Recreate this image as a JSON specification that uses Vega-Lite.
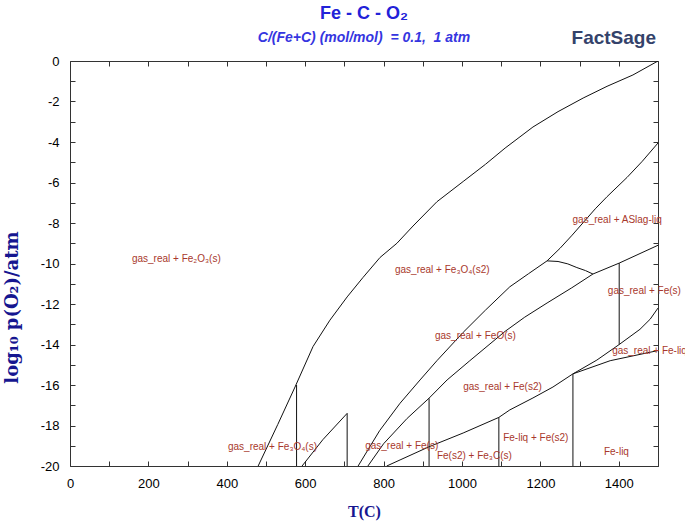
{
  "$schema": "https://vega.github.io/schema/vega-lite/v6.json",
  "width": 588,
  "height": 405,
  "autosize": {"type": "none"},
  "padding": {"left": 70, "top": 61, "right": 27, "bottom": 56},
  "background": "white",
  "config": {
    "view": {"stroke": "#333333", "strokeWidth": 1},
    "font": "Liberation Sans",
    "axis": {"grid": false, "domain": false, "tickColor": "#333333", "tickWidth": 1, "labelFont": "Liberation Sans", "labelFontSize": 13, "labelColor": "#000000", "labelFlush": false, "labelOverlap": false}
  },
  "title": {
    "text": "Fe - C - O₂",
    "subtitle": "C/(Fe+C) (mol/mol) \u00a0= 0.1, \u00a01 atm",
    "anchor": "middle",
    "font": "Liberation Sans",
    "fontSize": 18,
    "fontWeight": "bold",
    "color": "#2222d8",
    "subtitleFont": "Liberation Sans",
    "subtitleFontSize": 14,
    "subtitleFontStyle": "italic",
    "subtitleFontWeight": "bold",
    "subtitleColor": "#3535e0",
    "subtitlePadding": 8,
    "offset": 14,
    "dy": 30
  },
  "datasets": {
    "lines": [
      {"seg": "c1", "i": 1, "T": 480, "v": -20}, {"seg": "c1", "i": 2, "T": 530, "v": -17.95}, {"seg": "c1", "i": 3, "T": 574, "v": -16.1}, {"seg": "c1", "i": 4, "T": 620, "v": -14.1}, {"seg": "c1", "i": 5, "T": 663, "v": -12.8}, {"seg": "c1", "i": 6, "T": 707, "v": -11.65}, {"seg": "c1", "i": 7, "T": 747, "v": -10.7}, {"seg": "c1", "i": 8, "T": 791, "v": -9.7}, {"seg": "c1", "i": 9, "T": 834, "v": -9.0}, {"seg": "c1", "i": 10, "T": 875, "v": -8.15}, {"seg": "c1", "i": 11, "T": 936, "v": -6.95}, {"seg": "c1", "i": 12, "T": 1003, "v": -5.95}, {"seg": "c1", "i": 13, "T": 1060, "v": -5.1}, {"seg": "c1", "i": 14, "T": 1110, "v": -4.3}, {"seg": "c1", "i": 15, "T": 1181, "v": -3.26}, {"seg": "c1", "i": 16, "T": 1245, "v": -2.5}, {"seg": "c1", "i": 17, "T": 1309, "v": -1.83}, {"seg": "c1", "i": 18, "T": 1370, "v": -1.25}, {"seg": "c1", "i": 19, "T": 1436, "v": -0.69}, {"seg": "c1", "i": 20, "T": 1500, "v": 0},
      {"seg": "c2", "i": 1, "T": 592, "v": -20}, {"seg": "c2", "i": 2, "T": 645, "v": -18.7}, {"seg": "c2", "i": 3, "T": 707, "v": -17.4},
      {"seg": "v707", "i": 1, "T": 707, "v": -17.4}, {"seg": "v707", "i": 2, "T": 707, "v": -20},
      {"seg": "v578", "i": 1, "T": 578, "v": -16.0}, {"seg": "v578", "i": 2, "T": 578, "v": -20},
      {"seg": "c3", "i": 1, "T": 735, "v": -20}, {"seg": "c3", "i": 2, "T": 790, "v": -18.25}, {"seg": "c3", "i": 3, "T": 842, "v": -16.9}, {"seg": "c3", "i": 4, "T": 893, "v": -15.75}, {"seg": "c3", "i": 5, "T": 936, "v": -14.8}, {"seg": "c3", "i": 6, "T": 1003, "v": -13.4}, {"seg": "c3", "i": 7, "T": 1060, "v": -12.3}, {"seg": "c3", "i": 8, "T": 1122, "v": -11.15}, {"seg": "c3", "i": 9, "T": 1170, "v": -10.5}, {"seg": "c3", "i": 10, "T": 1217, "v": -9.87}, {"seg": "c3", "i": 11, "T": 1250, "v": -9.25}, {"seg": "c3", "i": 12, "T": 1281, "v": -8.6}, {"seg": "c3", "i": 13, "T": 1306, "v": -8.05}, {"seg": "c3", "i": 14, "T": 1340, "v": -7.3}, {"seg": "c3", "i": 15, "T": 1370, "v": -6.7}, {"seg": "c3", "i": 16, "T": 1421, "v": -5.75}, {"seg": "c3", "i": 17, "T": 1460, "v": -4.95}, {"seg": "c3", "i": 18, "T": 1500, "v": -4.05},
      {"seg": "c4", "i": 1, "T": 760, "v": -20}, {"seg": "c4", "i": 2, "T": 800, "v": -18.9}, {"seg": "c4", "i": 3, "T": 860, "v": -17.65}, {"seg": "c4", "i": 4, "T": 916, "v": -16.65}, {"seg": "c4", "i": 5, "T": 962, "v": -15.75}, {"seg": "c4", "i": 6, "T": 1020, "v": -14.8}, {"seg": "c4", "i": 7, "T": 1110, "v": -13.35}, {"seg": "c4", "i": 8, "T": 1160, "v": -12.65}, {"seg": "c4", "i": 9, "T": 1217, "v": -11.95}, {"seg": "c4", "i": 10, "T": 1280, "v": -11.2}, {"seg": "c4", "i": 11, "T": 1334, "v": -10.52}, {"seg": "c4", "i": 12, "T": 1401, "v": -9.98}, {"seg": "c4", "i": 13, "T": 1500, "v": -9.1},
      {"seg": "c5", "i": 1, "T": 808, "v": -20}, {"seg": "c5", "i": 2, "T": 842, "v": -19.7}, {"seg": "c5", "i": 3, "T": 916, "v": -19.05}, {"seg": "c5", "i": 4, "T": 1003, "v": -18.37}, {"seg": "c5", "i": 5, "T": 1094, "v": -17.6}, {"seg": "c5", "i": 6, "T": 1122, "v": -17.23}, {"seg": "c5", "i": 7, "T": 1181, "v": -16.64}, {"seg": "c5", "i": 8, "T": 1232, "v": -16.1}, {"seg": "c5", "i": 9, "T": 1283, "v": -15.45},
      {"seg": "v916", "i": 1, "T": 916, "v": -16.65}, {"seg": "v916", "i": 2, "T": 916, "v": -20},
      {"seg": "v1094", "i": 1, "T": 1094, "v": -17.6}, {"seg": "v1094", "i": 2, "T": 1094, "v": -20},
      {"seg": "v1283", "i": 1, "T": 1283, "v": -15.45}, {"seg": "v1283", "i": 2, "T": 1283, "v": -20},
      {"seg": "v1401", "i": 1, "T": 1401, "v": -9.98}, {"seg": "v1401", "i": 2, "T": 1401, "v": -14.0},
      {"seg": "arc", "i": 1, "T": 1217, "v": -9.87}, {"seg": "arc", "i": 2, "T": 1245, "v": -9.9}, {"seg": "arc", "i": 3, "T": 1270, "v": -10.02}, {"seg": "arc", "i": 4, "T": 1293, "v": -10.2}, {"seg": "arc", "i": 5, "T": 1315, "v": -10.35}, {"seg": "arc", "i": 6, "T": 1334, "v": -10.52},
      {"seg": "c6", "i": 1, "T": 1283, "v": -15.45}, {"seg": "c6", "i": 2, "T": 1344, "v": -14.77}, {"seg": "c6", "i": 3, "T": 1401, "v": -14.0}, {"seg": "c6", "i": 4, "T": 1454, "v": -13.25}, {"seg": "c6", "i": 5, "T": 1480, "v": -12.75}, {"seg": "c6", "i": 6, "T": 1500, "v": -12.2},
      {"seg": "c7", "i": 1, "T": 1283, "v": -15.45}, {"seg": "c7", "i": 2, "T": 1378, "v": -14.8}, {"seg": "c7", "i": 3, "T": 1500, "v": -14.3}
    ],
    "labels": [
      {"T": 158, "v": -9.8, "text": "gas_real + Fe₂O₃(s)"},
      {"T": 829, "v": -10.3, "text": "gas_real + Fe₃O₄(s2)"},
      {"T": 1282, "v": -7.85, "text": "gas_real + ASlag-liq"},
      {"T": 1372, "v": -11.35, "text": "gas_real + Fe(s)"},
      {"T": 931, "v": -13.6, "text": "gas_real + FeO(s)"},
      {"T": 1383, "v": -14.3, "text": "gas_real + Fe-liq"},
      {"T": 1003, "v": -16.1, "text": "gas_real + Fe(s2)"},
      {"T": 403, "v": -19.05, "text": "gas_real + Fe₃O₄(s)"},
      {"T": 753, "v": -19.0, "text": "gas_real + Fe(s)"},
      {"T": 936, "v": -19.5, "text": "Fe(s2) + Fe₃C(s)"},
      {"T": 1105, "v": -18.6, "text": "Fe-liq + Fe(s2)"},
      {"T": 1362, "v": -19.3, "text": "Fe-liq"}
    ],
    "logo": [{"T": 1495, "v": 1.15, "text": "FactSage"}]
  },
  "layer": [
    {
      "data": {"name": "lines"},
      "mark": {"type": "line", "color": "#111111", "clip": true},
      "encoding": {
        "x": {"field": "T", "type": "quantitative", "scale": {"domain": [0, 1500], "nice": false, "zero": false},
          "axis": {"orient": "bottom", "values": [0, 100, 200, 300, 400, 500, 600, 700, 800, 900, 1000, 1100, 1200, 1300, 1400, 1500],
            "labelExpr": "datum.value % 200 == 0 ? '' + datum.value : ''", "tickSize": -5, "labelPadding": 16,
            "title": "T(C)", "titleFont": "Liberation Serif", "titleFontSize": 16, "titleFontWeight": "bold", "titleColor": "#161690", "titleY": 45, "titleBaseline": "middle"}},
        "y": {"field": "v", "type": "quantitative", "scale": {"domain": [-20, 0], "nice": false, "zero": false},
          "axis": {"orient": "left", "values": [-20, -19, -18, -17, -16, -15, -14, -13, -12, -11, -10, -9, -8, -7, -6, -5, -4, -3, -2, -1, 0],
            "labelExpr": "datum.value % 2 == 0 ? '' + datum.value : ''", "tickSize": -5, "labelPadding": 16,
            "title": "log₁₀ p(O₂)/atm", "titleFont": "DejaVu Serif", "titleFontSize": 18, "titleFontWeight": "bold", "titleColor": "#161690", "titleX": -58, "titleY": 246, "titleBaseline": "middle", "titleAlign": "center"}},
        "detail": {"field": "seg", "type": "nominal"},
        "order": {"field": "i", "type": "quantitative"},
        "strokeWidth": {"field": "seg", "type": "nominal", "legend": null,
          "scale": {"domain": ["c1", "c2", "arc", "c6", "c7", "c3", "c4", "c5", "v578", "v707", "v916", "v1094", "v1283", "v1401"],
            "range": [1, 1, 1.2, 1, 1.2, 1.5, 1.6, 1.6, 1.3, 1.2, 1.3, 1.3, 1.3, 1.3]}}
      }
    },
    {
      "data": {"name": "labels"},
      "mark": {"type": "text", "align": "left", "baseline": "middle", "fontSize": 10, "font": "Liberation Sans", "color": "#a8382c", "clip": false},
      "encoding": {
        "x": {"field": "T", "type": "quantitative", "scale": {"domain": [0, 1500], "nice": false, "zero": false},
          "axis": {"orient": "top", "values": [0, 100, 200, 300, 400, 500, 600, 700, 800, 900, 1000, 1100, 1200, 1300, 1400, 1500], "labels": false, "tickSize": -5, "title": null}},
        "y": {"field": "v", "type": "quantitative", "scale": {"domain": [-20, 0], "nice": false, "zero": false},
          "axis": {"orient": "right", "values": [-20, -19, -18, -17, -16, -15, -14, -13, -12, -11, -10, -9, -8, -7, -6, -5, -4, -3, -2, -1, 0], "labels": false, "tickSize": -5, "title": null}},
        "text": {"field": "text", "type": "nominal"}
      }
    },
    {
      "data": {"name": "logo"},
      "mark": {"type": "text", "align": "right", "baseline": "middle", "fontSize": 19, "fontWeight": "bold", "font": "Liberation Sans", "color": "#34426a", "clip": false},
      "encoding": {
        "x": {"field": "T", "type": "quantitative", "axis": null},
        "y": {"field": "v", "type": "quantitative", "axis": null},
        "text": {"field": "text", "type": "nominal"}
      }
    }
  ],
  "resolve": {"axis": {"x": "independent", "y": "independent"}}
}
